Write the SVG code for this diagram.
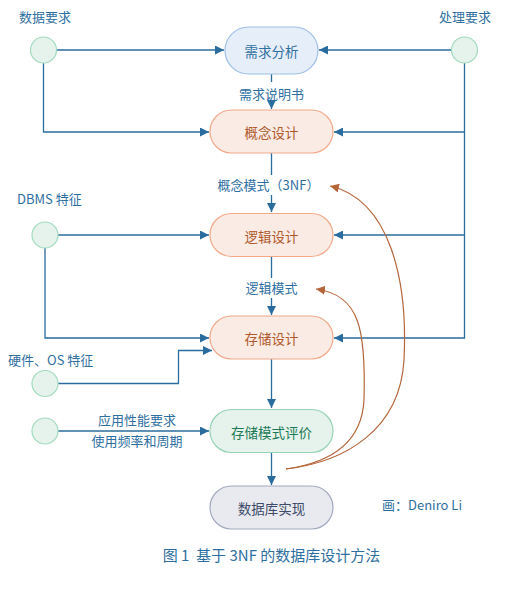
<svg xmlns="http://www.w3.org/2000/svg" width="510" height="598" viewBox="0 0 510 598">
<defs>
<style>
text{font-family:"Microsoft YaHei","Noto Sans CJK SC","Noto Sans",sans-serif}
.lbl{font-size:13px;fill:#2f6f9f}
.nt{font-size:13.5px;text-anchor:middle;dominant-baseline:central}
.ln{fill:none;stroke:#2a6c9e;stroke-width:1.3}
.cv{fill:none;stroke:#b5653a;stroke-width:1.2}
.circ{fill:#e5f3ec;stroke:#a3dbbf;stroke-width:1.2}
.orange{fill:#fbebe5;stroke:#f2a98b;stroke-width:1.2}
</style>
<marker id="ab" viewBox="0 0 10 10" refX="10" refY="5" markerWidth="9" markerHeight="9" markerUnits="userSpaceOnUse" orient="auto"><path d="M0,0 L10,5 L0,10 z" fill="#2a6c9e"/></marker>
<marker id="ar" viewBox="0 0 10 10" refX="10" refY="5" markerWidth="9" markerHeight="9" markerUnits="userSpaceOnUse" orient="auto"><path d="M0,0 L10,5 L0,10 z" fill="#b5653a"/></marker>
</defs>
<rect width="510" height="598" fill="#ffffff"/>
<g id="connectors">
<path class="ln" d="M56,50 H224" marker-end="url(#ab)"/>
<path class="ln" d="M43.5,63 V132 H209" marker-end="url(#ab)"/>
<path class="ln" d="M451,50 H319" marker-end="url(#ab)"/>
<path class="ln" d="M464.5,63 V338 H334" marker-end="url(#ab)"/>
<path class="ln" d="M464.5,132 H334" marker-end="url(#ab)"/>
<path class="ln" d="M464.5,235 H334" marker-end="url(#ab)"/>
<path class="ln" d="M271.5,74 V82"/>
<path class="ln" d="M271.5,104 V109" marker-end="url(#ab)"/>
<path class="ln" d="M271.5,153 V175"/>
<path class="ln" d="M271.5,195 V212" marker-end="url(#ab)"/>
<path class="ln" d="M271.5,257 V278"/>
<path class="ln" d="M271.5,298 V315" marker-end="url(#ab)"/>
<path class="ln" d="M271.5,359 V408" marker-end="url(#ab)"/>
<path class="ln" d="M271.5,453 V485" marker-end="url(#ab)"/>
<path class="ln" d="M58,235 H209" marker-end="url(#ab)"/>
<path class="ln" d="M45,248 V338 H209" marker-end="url(#ab)"/>
<path class="ln" d="M58,383.5 H178.5 V350.5 H212" marker-end="url(#ab)"/>
<path class="ln" d="M58,431 H209" marker-end="url(#ab)"/>
<path class="cv" d="M286,469 C345,462 400,430 404,360 C408,280 390,200 330,186" marker-end="url(#ar)"/>
<path class="cv" d="M286,469 C335,462 362,440 364,400 C366,330 360,295 316,289" marker-end="url(#ar)"/>
</g>
<g id="n-data-req">
<circle class="circ" cx="43.5" cy="50" r="13"/>
<text class="lbl" x="45" y="22" text-anchor="middle">数据要求</text>
</g>
<g id="n-proc-req">
<circle class="circ" cx="464.5" cy="50" r="13"/>
<text class="lbl" x="465" y="22" text-anchor="middle">处理要求</text>
</g>
<g id="n-dbms">
<circle class="circ" cx="45" cy="235" r="13"/>
<text class="lbl" x="17" y="204">DBMS 特征</text>
</g>
<g id="n-hw">
<circle class="circ" cx="45" cy="383.5" r="13"/>
<text class="lbl" x="8" y="365">硬件、OS 特征</text>
</g>
<g id="n-perf">
<circle class="circ" cx="45" cy="431" r="13"/>
<text class="lbl" x="137" y="425" text-anchor="middle">应用性能要求</text>
<text class="lbl" x="137" y="446" text-anchor="middle">使用频率和周期</text>
</g>
<g id="n-req-analysis">
<rect x="225" y="27" width="93" height="47" rx="23.5" fill="#e6eef9" stroke="#9fbfe6" stroke-width="1.2"/>
<text class="nt" x="271.5" y="51" fill="#2f6f9f">需求分析</text>
</g>
<g id="n-concept">
<rect class="orange" x="210" y="110" width="123" height="43" rx="21.5"/>
<text class="nt" x="271.5" y="132" fill="#b0592c">概念设计</text>
</g>
<g id="n-logic">
<rect class="orange" x="210" y="213.5" width="123" height="43" rx="21.5"/>
<text class="nt" x="271.5" y="235.5" fill="#b0592c">逻辑设计</text>
</g>
<g id="n-storage">
<rect class="orange" x="210" y="316" width="123" height="43" rx="21.5"/>
<text class="nt" x="271.5" y="338" fill="#b0592c">存储设计</text>
</g>
<g id="n-eval">
<rect x="210" y="409.5" width="123" height="43" rx="21.5" fill="#e5f3ec" stroke="#96d3b6" stroke-width="1.2"/>
<text class="nt" x="271.5" y="431.5" fill="#1d7a56">存储模式评价</text>
</g>
<g id="n-impl">
<rect x="210" y="486" width="123" height="43" rx="21.5" fill="#e9eaef" stroke="#a3a9bf" stroke-width="1.2"/>
<text class="nt" x="271.5" y="508" fill="#3d4a6a">数据库实现</text>
</g>
<g id="labels">
<text class="lbl" x="271.5" y="99" text-anchor="middle">需求说明书</text>
<text class="lbl" x="268.5" y="190" text-anchor="middle">概念模式（3NF）</text>
<text class="lbl" x="271.5" y="293" text-anchor="middle">逻辑模式</text>
<text class="lbl" x="382" y="510">画：Deniro Li</text>
<text x="271.5" y="561" text-anchor="middle" xml:space="preserve" style="font-size:15px;fill:#2f6f9f">图 1  基于 3NF 的数据库设计方法</text>
</g>
</svg>
